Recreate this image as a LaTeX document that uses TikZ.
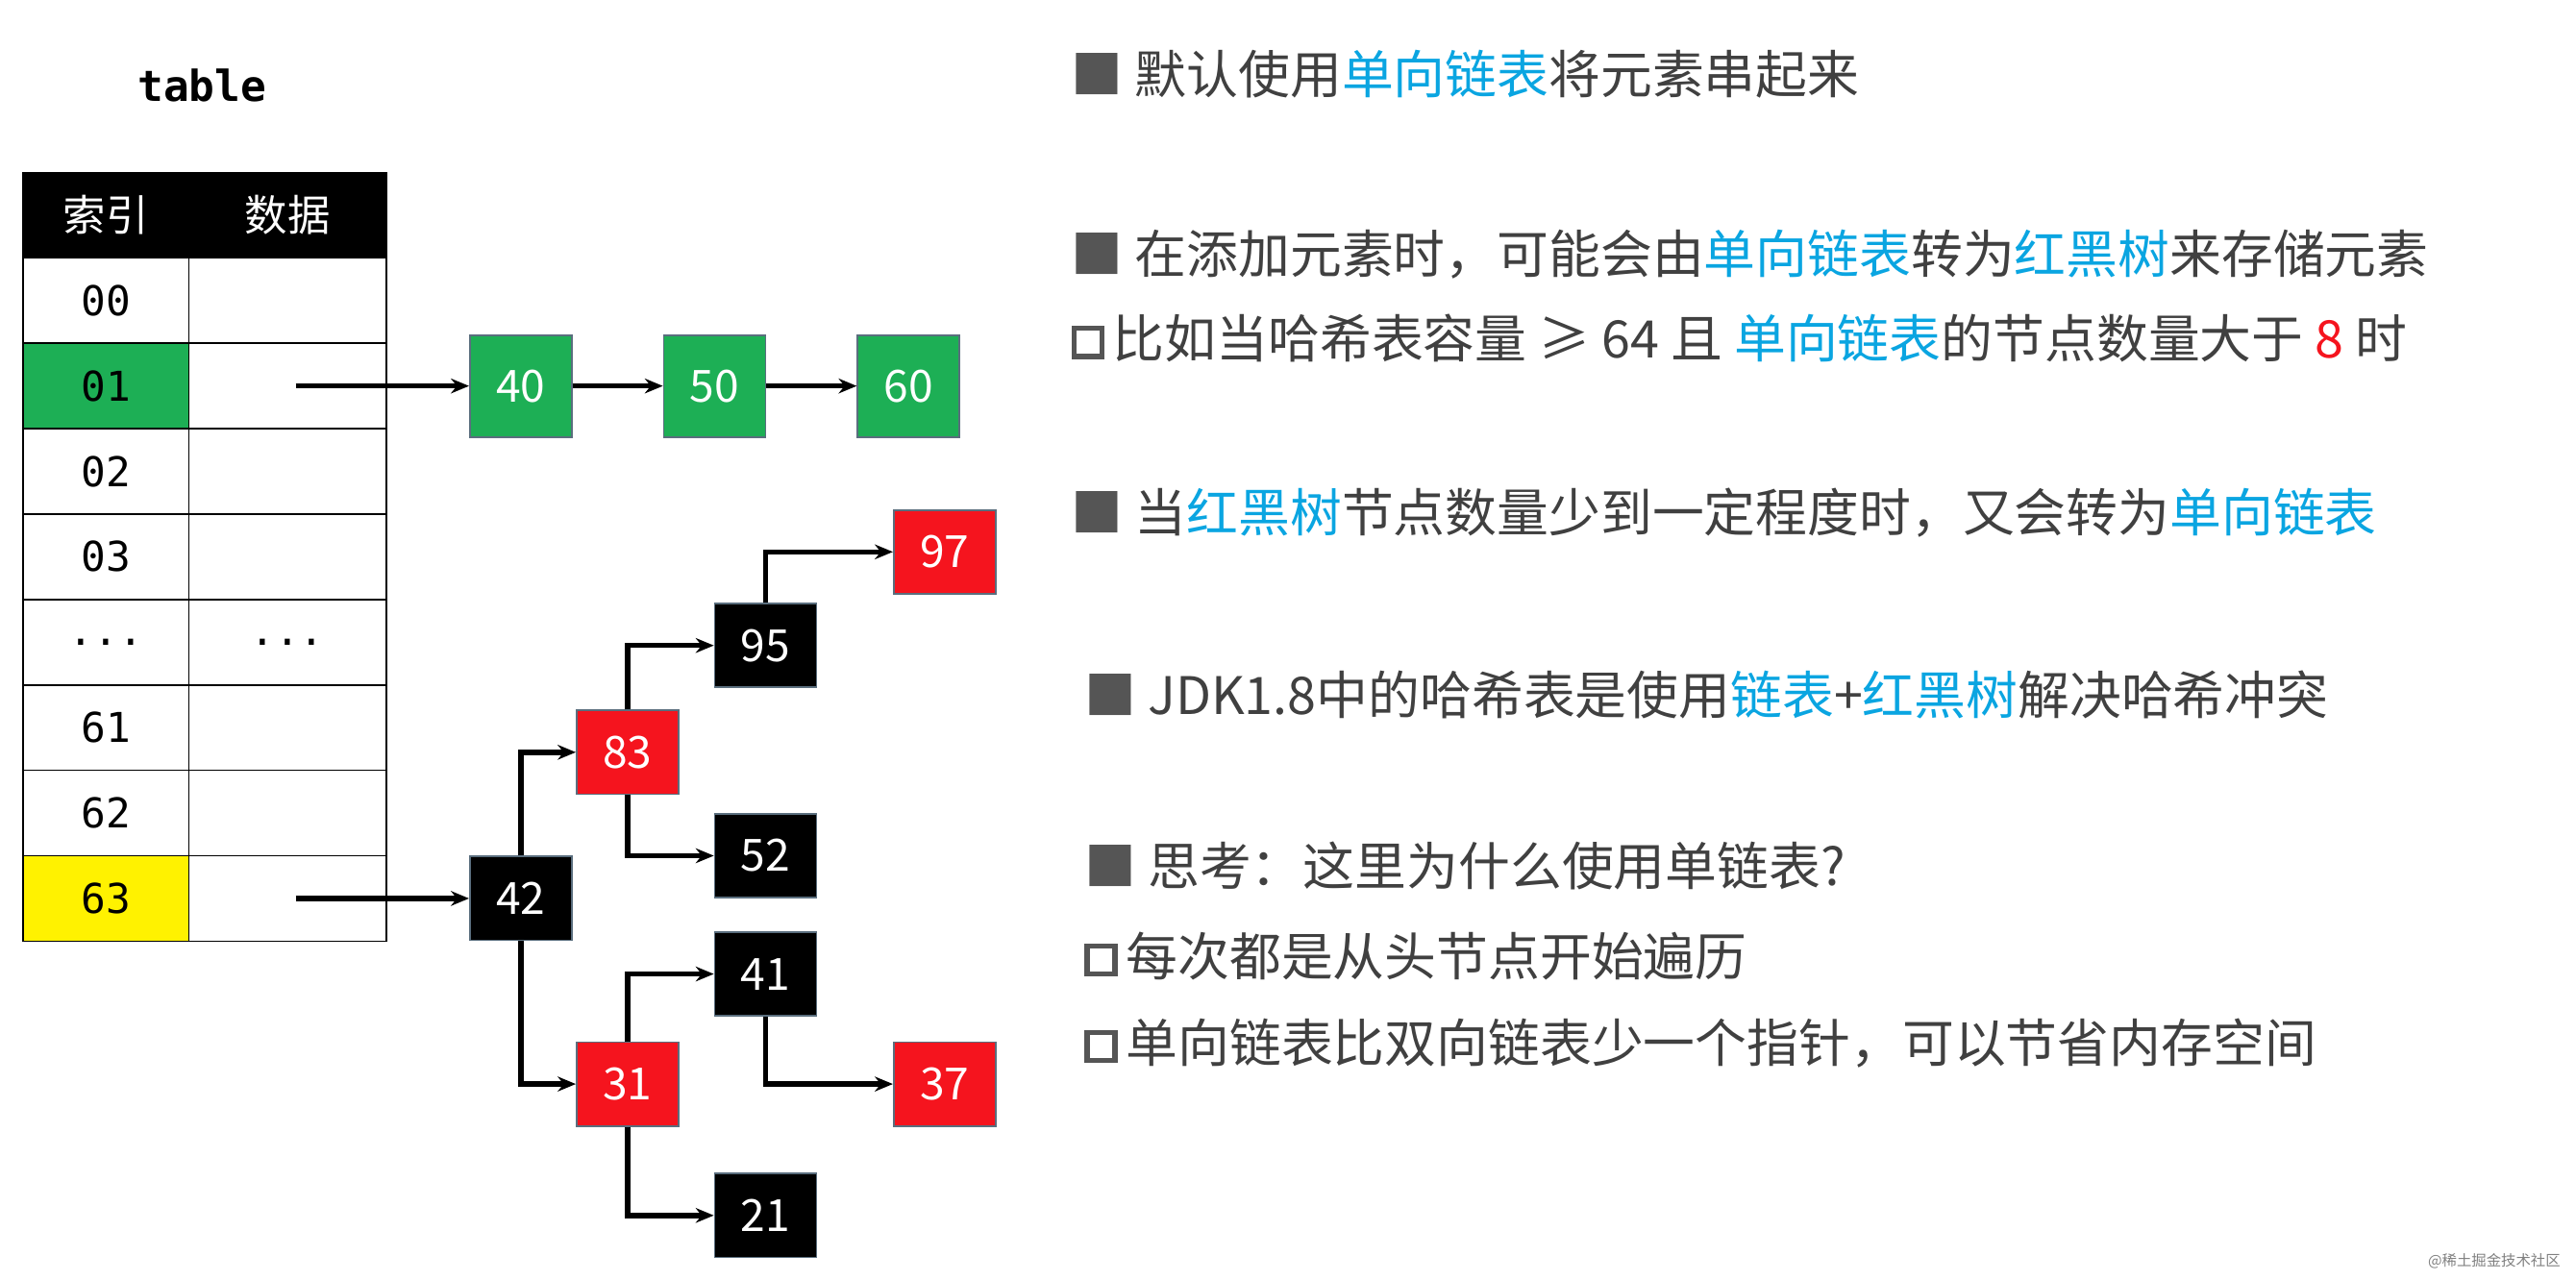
\documentclass[tikz,border=0pt]{standalone}
\usepackage{fontspec}
\setmainfont{Noto Sans CJK SC}
\newfontfamily\monof{DejaVu Sans Mono}
\usetikzlibrary{arrows.meta}
\definecolor{tgreen}{HTML}{1DAF55}
\definecolor{tred}{HTML}{F5141E}
\definecolor{tblue}{HTML}{0AA5E1}
\definecolor{tgray}{HTML}{404040}
\definecolor{bgray}{HTML}{555555}
\definecolor{bord}{HTML}{5A6E7E}
\newcommand\mydots{...}
\newcommand\bsq{\textcolor{bgray}{■}}
\newcommand\hsq{\tikz[baseline=-1pt]\draw[bgray,line width=3pt](0,0) rectangle (17pt,17pt);\,}
\begin{document}
\begin{tikzpicture}[x=1pt,y=-1pt,
 cell/.style={draw=black,line width=1pt,minimum width=101pt,minimum height=52pt,inner sep=0,font=\monof\fontsize{25}{25}\selectfont},
 lnode/.style={draw=bord,line width=1pt,fill=tgreen,text=white,minimum width=62pt,minimum height=62pt,inner sep=0,font=\fontsize{27}{27}\selectfont},
 rb/.style={draw=bord,line width=1pt,fill=#1,text=white,minimum width=62pt,minimum height=51pt,inner sep=0,font=\fontsize{27}{27}\selectfont},
 arr/.style={-{Stealth[length=11pt,width=9pt]},line width=3.2pt},
 txt/.style={anchor=west,text=tgray,font=\fontsize{31.5}{31.5}\selectfont,inner sep=0}]
\useasboundingbox (0,0) rectangle (1568,779);
\node[font=\monof\bfseries\fontsize{26}{26}\selectfont] at (123,52) {table};
% table
\node[cell,fill=black,text=white,font=\fontsize{26}{26}\selectfont] (h1) at (64.5,131) {索引};
\node[cell,fill=black,text=white,font=\fontsize{26}{26}\selectfont,minimum width=120pt] (h2) at (175,131) {数据};
\foreach \t/\f [count=\i] in {00/white,01/tgreen,02/white,03/white,\mydots/white,61/white,62/white,63/yellow}{
  \node[cell,fill=\f] (a\i) at (64.5,131+52*\i) {\t};
  \node[cell,minimum width=120pt] (b\i) at (175,131+52*\i) {\ifnum\i=5 \mydots\fi};
}
% list
\node[lnode] (n40) at (317,235) {40};
\node[lnode] (n50) at (435,235) {50};
\node[lnode] (n60) at (553,235) {60};
\coordinate (s1) at (180,235);
\draw[arr] (s1) -- (n40);
\draw[arr] (n40) -- (n50);
\draw[arr] (n50) -- (n60);
% tree
\node[rb=tred] (n97) at (575,336) {97};
\node[rb=black] (n95) at (466,393) {95};
\node[rb=tred] (n83) at (382,458) {83};
\node[rb=black] (n52) at (466,521) {52};
\node[rb=black] (n42) at (317,547) {42};
\node[rb=black] (n41) at (466,593) {41};
\node[rb=tred] (n31) at (382,660) {31};
\node[rb=tred] (n37) at (575,660) {37};
\node[rb=black] (n21) at (466,740) {21};
\coordinate (s2) at (180,547);
\draw[arr] (s2) -- (n42);
\draw[arr] (n42.north) |- (n83.west);
\draw[arr] (n42.south) |- (n31.west);
\draw[arr] (n83.north) |- (n95.west);
\draw[arr] (n83.south) |- (n52.west);
\draw[arr] (n95.north) |- (n97.west);
\draw[arr] (n31.north) |- (n41.west);
\draw[arr] (n31.south) |- (n21.west);
\draw[arr] (n41.south) |- (n37.west);
% texts
\node[txt] (t1) at (652,45) {\bsq{} 默认使用\textcolor{tblue}{单向链表}将元素串起来};
\node[txt] (t2) at (652,155) {\bsq{} 在添加元素时，可能会由\textcolor{tblue}{单向链表}转为\textcolor{tblue}{红黑树}来存储元素};
\node[txt] (t3) at (652,206) {\hsq 比如当哈希表容量 ≥ 64 且 \textcolor{tblue}{单向链表}的节点数量大于 \textcolor{tred}{8} 时};
\node[txt] (t4) at (652,312) {\bsq{} 当\textcolor{tblue}{红黑树}节点数量少到一定程度时，又会转为\textcolor{tblue}{单向链表}};
\node[txt] (t5) at (660,423) {\bsq{} JDK1.8中的哈希表是使用\textcolor{tblue}{链表}+\textcolor{tblue}{红黑树}解决哈希冲突};
\node[txt] (t6) at (660,527) {\bsq{} 思考：这里为什么使用单链表?};
\node[txt] (t7) at (660,582) {\hsq 每次都是从头节点开始遍历};
\node[txt] (t8) at (660,635) {\hsq 单向链表比双向链表少一个指针，可以节省内存空间};
\node[anchor=east,text=gray,font=\fontsize{9}{9}\selectfont] (wm) at (1562,768) {@稀土掘金技术社区};
\end{tikzpicture}
\end{document}
